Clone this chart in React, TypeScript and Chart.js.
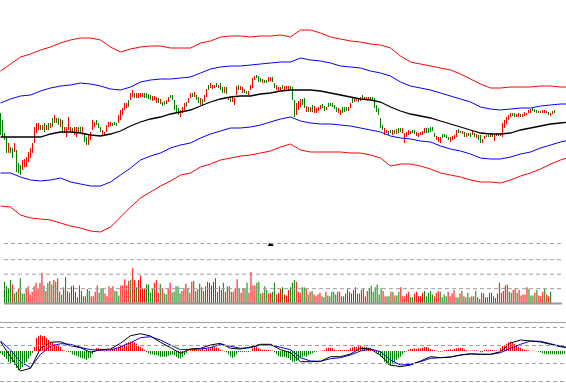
import { useEffect, useRef } from 'react';
import { Chart, registerables } from 'chart.js';

Chart.register(...registerables);

const RED = '#ff0000';
const GREEN = '#008000';
const BLUE = '#0000ff';
const BLACK = '#000000';
const GRID = '#a0a0a0';

// ---- candles (price units, higher = up) ----
const open = [
  126,119,106,102,88,92,91,89,89,76, 74,71,74,74,79,83,88,98,108,111,
  114,111,116,111,116,113,121,118,121,121, 114,119,108,104,111,108,111,106,104,112,
  112,106,106,102,96,101,111,114,119,116, 112,106,105,109,114,115,117,118,117,118,
  121,126,131,133,139,141,144,146,143,143, 144,144,146,146,145,144,140,141,138,141,
  137,137,138,137,139,145,144,139,134,131, 124,128,131,137,138,143,146,144,144,142,
  136,140,139,144,154,153,152,152,156,152, 156,152,148,152,140,142,139,136,146,154,
  151,148,150,149,146,151,153,161,165,163, 161,158,160,160,159,160,162,156,151,150,
  150,154,151,151,150,153,152,139,126,131, 134,140,141,129,132,129,134,128,128,130,
  132,135,133,130,136,137,136,134,132,128, 126,132,132,132,130,133,141,139,139,141,
  140,144,140,140,141,143,143,141,134,131, 121,114,106,107,108,110,106,109,107,111,
  111,108,98,104,106,106,110,109,105,104, 105,106,108,111,111,112,112,106,101,99,
  98,105,106,105,103,99,101,102,104,110, 109,106,107,104,107,106,106,106,103,104,
  104,98,101,105,105,104,106,100,104,106, 104,104,113,117,121,124,127,126,123,124,
  126,123,125,125,127,128,132,131,130,127, 129,127,127,127,128,124,126,130,
];
const high = [
  127,120,107,103,97,93,92,97,90,77, 75,80,81,83,88,92,97,113,117,117,
  115,115,117,115,117,117,122,125,122,122, 121,120,113,113,123,113,112,113,113,113,
  113,113,107,103,105,108,120,118,120,117, 113,110,108,115,118,118,117,118,117,125,
  130,132,137,137,140,147,150,147,147,147, 147,147,147,147,146,145,144,144,143,142,
  141,138,139,140,143,145,145,140,135,132, 130,133,137,138,142,147,147,148,145,143,
  142,141,145,151,155,157,155,155,157,155, 157,153,153,153,143,143,143,142,154,155,
  154,153,151,149,149,155,162,164,165,164, 162,161,160,160,163,163,163,157,155,153,
  153,155,154,154,154,154,153,140,137,139, 141,141,142,134,133,133,135,134,132,133,
  135,136,134,133,137,137,137,135,133,132, 130,133,133,133,133,137,142,142,142,142,
  143,145,143,143,143,143,143,142,135,132, 122,115,112,110,109,110,110,110,111,112,
  112,112,107,108,110,109,110,110,108,107, 108,109,112,112,112,113,113,107,104,103,
  103,106,106,105,103,103,104,105,110,111, 109,109,108,107,107,107,109,107,106,105,
  105,101,104,105,105,107,106,105,107,106, 107,117,120,123,125,127,127,127,126,127,
  126,126,128,127,130,131,132,131,130,129, 129,130,130,129,128,127,129,130,
];
const low = [
  105,103,100,87,87,87,82,88,68,67, 65,70,73,73,78,82,87,97,107,110,
  110,110,108,110,110,112,113,117,117,115, 113,107,107,103,110,107,107,105,103,107,
  107,105,98,95,95,100,110,113,115,112, 108,105,105,108,113,114,114,115,114,117,
  120,125,130,132,133,140,143,142,142,142, 143,143,142,142,141,140,139,140,137,137,
  136,134,135,136,138,142,140,130,128,125, 123,127,130,133,137,142,143,143,140,137,
  135,134,138,143,150,152,151,152,153,152, 150,147,147,146,140,138,138,135,145,150,
  150,147,147,146,145,150,152,160,162,158, 158,157,157,157,158,159,158,152,150,149,
  150,151,150,151,149,150,140,123,125,130, 133,135,132,128,128,128,128,127,127,129,
  131,132,129,130,133,134,133,131,128,127, 125,127,128,129,129,132,137,138,139,138,
  139,141,140,140,141,140,140,132,128,125, 112,110,105,107,105,107,105,106,106,107,
  108,107,97,103,105,106,107,106,104,103, 105,105,107,107,107,108,109,103,100,98,
  97,102,103,102,100,98,100,101,103,107, 107,106,103,103,104,103,105,103,102,100,
  97,97,101,103,103,103,103,99,104,104, 104,103,112,116,120,123,124,123,123,123,
  123,123,124,125,127,127,129,128,127,127, 127,127,127,127,125,124,126,127,
];
const close = [
  106,104,101,88,96,88,83,96,69,68, 66,79,80,82,87,91,96,112,116,116,
  111,114,109,114,111,116,114,124,118,116, 120,108,112,112,122,112,108,112,112,108,
  108,112,99,96,104,107,119,117,116,113, 109,109,108,114,117,117,114,115,114,124,
  129,131,136,136,134,146,149,143,146,146, 146,146,143,143,142,141,143,143,142,138,
  140,135,136,139,142,142,141,131,129,126, 129,132,136,134,141,146,144,147,141,138,
  141,135,144,150,151,156,154,155,154,155, 151,148,152,147,143,139,142,141,153,151,
  153,152,148,146,148,154,161,163,162,159, 159,160,157,157,162,162,159,153,154,152,
  153,152,153,154,153,151,141,124,136,138, 140,136,133,133,129,132,129,133,131,132,
  134,133,130,133,134,134,134,132,129,131, 129,128,129,130,132,136,138,141,142,139,
  142,142,143,143,143,140,140,133,129,126, 113,111,111,110,106,107,109,107,110,108,
  109,111,106,107,109,109,107,107,107,106, 108,108,111,108,108,109,110,104,103,102,
  102,103,103,102,100,102,103,104,109,108, 107,109,104,106,104,104,108,104,105,101,
  98,100,104,103,103,106,103,104,107,104, 107,116,119,122,124,126,124,124,126,126,
  123,126,127,127,130,130,129,128,127,129, 127,130,130,129,125,127,129,127,
];

// ---- volume ----
const volume = [
  24,19,17,26,21,11,13,16,28,11, 11,16,19,10,13,19,23,17,23,34,
  20,14,23,25,21,26,24,28,13,10, 18,29,14,12,19,20,13,7,20,14,
  8,8,16,14,8,8,13,20,12,17, 17,11,8,19,17,19,14,14,9,20,
  20,27,20,25,26,39,26,18,26,31, 17,17,21,21,12,16,23,26,12,22,
  17,11,10,16,23,12,13,19,19,11, 14,17,22,17,12,24,25,14,16,22,
  18,14,19,24,23,20,24,28,13,19, 15,23,13,19,19,13,13,17,27,17,
  12,17,16,23,12,35,20,20,23,24, 11,12,19,15,11,12,13,23,10,12,
  16,18,10,9,15,18,23,26,24,13, 12,18,18,16,10,13,14,10,8,10,
  12,8,7,13,9,8,13,13,10,13, 13,8,8,11,16,13,11,15,18,11,
  11,15,16,8,14,17,20,13,18,21, 10,17,14,8,8,8,13,13,9,9,
  13,18,8,8,11,13,7,7,11,13, 8,8,12,14,8,12,14,10,8,12,
  14,13,7,10,8,13,8,11,15,7, 7,11,14,8,7,12,7,8,8,14,
  7,5,12,11,7,7,12,12,8,6, 11,23,12,14,20,21,13,12,15,17,
  12,15,9,10,10,18,16,9,9,12, 15,9,8,13,16,10,8,13,
];

// ---- MACD histogram (one per bar, extends past last candle) ----
const macdHist = [
  -2.3,-4,-6,-8,-11,-13,-11,-14,-17,-19,-18,-16,-14,-11,-8,-5,-2,
  4,13,15,16,15,15,13,11,9,8,7,6,5,4,1,
  0.5,-0.5,-1,
  -1.3,-3.3,-4,-4.7,-5.7,-6.7,-7.3,-8,-9,-7.3,-6.7,-3.3,-1.3,
  3,3,2, 1,-0.5,1,0.5,1,
  1.7,2.7,3.3,4.3,5.3,6,6.7,8,8.7,9.3,9.3,8.7,7.3,5.3,4,2.7,1.3,
  -1.3,-2.3,-3.3,-3.3,-4,-4,-4.7,-5.7,-5.7,-5.7,-5.7,-4.7,-4,-3.3,-4,-5.7,-7.3,-7.3,-5.7,-4,-2,
  0.5,
  1.5,2,2.5,1.5,1,1.5,2,1,
  2.7,3.3,4,4.3,4,3.7,2.7,1.3,
  0.5,-0.5,
  -1.3,-3.3,-5.7,-6.7,-5.7,-3.3,-1.3,
  -1,-1.3,-1,-0.7,-1,-0.5,
  2.7,4,4,2.7,2,1.3,1.3,1.3,
  1,0.7,0.5,
  -1.3,-3.3,-4.7,-5.7,-5.7,
  -5.7,-6.7,-7.3,-9,-10.7,-10.7,-10,-9,-6.7,-5.7,-4.7,-5.7,-4,-3.3,-2.3,-1.3,-0.7,-0.3,
  0.3,0.5,0.7,
  2.7,3.3,3.3,2.7,1.3,0.7,
  0.7,1,1,1,1,1,
  2.7,3.7,4.3,4,4.7,5,4.3,4.3,4,3.3,2.7,2,1,
  -1.3,-3.3,-5.7,-7.3,-10.7,-13.3,-14,-14.7,-13.3,-10.7,-9,-7.3,-5.7,-3.3,-1.3,
  -0.5,
  1.3,2,2,2.7,2,2.7,2.7,3.3,4,4,3.3,2,1.3,0.7,0.5,
  -0.7,-0.7,-0.5,
  0.7,1,1.3,1.7,1.3,2,2.7,3.3,3.3,2.7,1.7,0.7,0.3,
  0.5,0.5,0.7,0.5,0.3,
  -1.3,-1.3,
  1.3,1.3,1,1.3,1,0.7,0.5,0.3,
  2.7,5,6,7.3,8.7,9.3,8.7,7.3,6,4.3,3.3,2,1.3,1,0.7,0.3,
  0.2,-0.2,-0.3,
  -0.7,-1.3,-2,-2.7,-3.3,-3.3,-3.3,-3.3,-3.3,-3.3,-3.3,-3.3,-3.3,-2.7,
];

// ---- smooth lines sampled every LINE_STEP bars ----
const LINE_STEP = 5;
const bandOuterUpper = [
  169,176,183,186,190,193,197,200,202,202, 200,193,188,191,193,194,194,192,192,192,
  197,199,203,204,204,203,204,204,205,203, 210,210,207,203,201,199,198,196,195,192,
  184,178,176,174,172,170,166,161,156,152, 152,153,153,153,154,154,153,153,
];
const bandInnerUpper = [
  137,141,144,145,149,152,154,155,157,156, 154,151,150,153,158,160,161,161,162,163,
  167,171,173,174,174,175,176,177,178,178, 182,180,179,177,174,173,172,169,167,164,
  158,154,152,150,147,144,141,138,133,131, 130,131,132,132,134,135,136,136,
];
const movingAverage = [
  103,103,103,103,103,106,108,108,107,105, 104,106,109,114,118,121,123,126,128,130,
  134,138,141,143,144,144,146,147,149,150, 150,150,149,147,145,143,141,140,138,133,
  129,126,124,122,119,116,113,110,107,106, 106,107,110,112,114,116,117,118,
];
const bandInnerLower = [
  67,67,63,60,59,60,62,58,56,54, 54,58,65,72,80,84,87,92,95,97,
  102,106,109,112,112,113,115,118,121,123, 119,117,116,116,115,114,112,110,108,104,
  102,101,99,98,94,91,89,86,82,81, 81,83,86,88,92,95,98,100,
];
const bandOuterLower = [
  34,33,25,22,21,20,17,14,12,9, 8,13,23,33,42,48,54,59,65,67,
  73,76,80,82,84,85,87,89,93,96, 90,88,88,88,88,87,87,85,82,74,
  76,76,74,71,67,65,63,60,58,58, 57,60,64,67,71,76,80,83,
];
const macdDif = [
  9.3,-5.7,-20,-17.3,2.7,8.7,9.3,5.3,3.3,-1.3, 1.3,2,7.7,15.3,17.3,15,8.7,3.3,-2.3,2,
  2.7,6,7.7,2.7,2,4,6.7,6.7,1.3,-1.7, -10.7,-10.7,-10.3,-5.7,-5.7,-3,2.7,2,-4.3,-14,
  -15.7,-14,-10,-5.7,-6.7,-6,-4,-3,-3.3,-3.3, -0.7,8,11,10,9,6.7,4.3,3,
];
const macdDea = [
  10,1,-10.7,-16.7,-3.3,4.7,7.3,6.7,3.7,1.3, 1,1,4,8.3,13.3,14.3,11,6,1.3,1.7,
  2,3.3,6.7,4.7,2.7,3.3,6,6,3.7,1.3, -6.7,-10,-10.3,-7.7,-6.7,-4,0,2,-0.7,-9,
  -14,-13.3,-10.7,-7.3,-6.7,-6,-4,-2.7,-3.3,-3.3, -1.7,2.7,6.7,10,9.7,7.3,4.7,3,
];

// reference levels
const volumeGridLevels = [66.5, 48.5, 32.5, 16.5];
const volumeBaseLevel = 0;
const macdTopLevel = 28.5;
const macdGridLevels = [23.5, 5.5, -12.5, -30.5];
const markerIndex = 135;
const markerLevel = 65.5;

// quarter-bar offset keeps the 1px bars on whole pixels
const X_MIN = -0.25;
const X_MAX = 282.75;

const candleColors = close.map((c, i) => (c >= open[i] ? RED : GREEN));

function lineSeries(values: number[]) {
  return values.map((v, k) => ({ x: k * LINE_STEP, y: v }));
}

function lineDs(values: number[], color: string, width = 1) {
  return {
    type: 'line' as const,
    data: lineSeries(values),
    borderColor: color,
    borderWidth: width,
    pointRadius: 0,
    tension: 0,
    fill: false,
    order: 0,
  };
}

function hline(level: number, color: string, dash: number[], width = 1) {
  return {
    type: 'line' as const,
    data: [{ x: X_MIN, y: level }, { x: X_MAX, y: level }],
    borderColor: color,
    borderWidth: width,
    borderDash: dash,
    pointRadius: 0,
    tension: 0,
    fill: false,
    order: 0,
  };
}

function barDs(data: any[], colors: string[] | string, order = 1) {
  return {
    type: 'bar' as const,
    data,
    backgroundColor: colors,
    borderWidth: 0,
    barThickness: 1,
    grouped: false,
    inflateAmount: 0,
    order,
  };
}

function baseOptions(yMin: number, yMax: number): any {
  return {
    animation: false,
    responsive: false,
    maintainAspectRatio: false,
    devicePixelRatio: 1,
    events: [],
    layout: { padding: 0 },
    plugins: { legend: { display: false }, tooltip: { enabled: false } },
    scales: {
      x: { type: 'linear', min: X_MIN, max: X_MAX, display: false, offset: false },
      y: { type: 'linear', min: yMin, max: yMax, display: false },
    },
  };
}

function mainConfig(): any {
  const idx = open.map((_, i) => i);
  return {
    type: 'bar',
    data: {
      datasets: [
        lineDs(bandOuterUpper, RED),
        lineDs(bandInnerUpper, BLUE),
        lineDs(movingAverage, BLACK, 1.3),
        lineDs(bandInnerLower, BLUE),
        lineDs(bandOuterLower, RED),
        barDs(idx.map((i) => ({ x: i, y: [low[i], high[i]] })), candleColors, 1),
        barDs(idx.map((i) => ({ x: i, y: [open[i], close[i]] })), candleColors, 1),
      ],
    },
    options: baseOptions(1, 240),
  };
}

function volumeConfig(): any {
  return {
    type: 'bar',
    data: {
      datasets: [
        ...volumeGridLevels.map((v) => hline(v, GRID, [4, 3])),
        hline(volumeBaseLevel, '#999999', [], 2),
        barDs(volume.map((v, i) => ({ x: i, y: v })), candleColors, 2),
        {
          type: 'line',
          data: [{ x: markerIndex, y: markerLevel }],
          showLine: false,
          pointStyle: 'triangle',
          pointRadius: 3.5,
          pointBackgroundColor: BLACK,
          pointBorderColor: BLACK,
          pointBorderWidth: 0,
          order: 0,
        },
      ],
    },
    options: baseOptions(-16, 67),
  };
}

function macdConfig(): any {
  return {
    type: 'bar',
    data: {
      datasets: [
        hline(macdTopLevel, GRID, [], 1),
        ...macdGridLevels.map((v) => hline(v, GRID, [4, 3])),
        lineDs(macdDif, BLACK),
        lineDs(macdDea, BLUE),
        barDs(
          macdHist.map((v, i) => ({ x: i, y: v })),
          macdHist.map((v) => (v >= 0 ? RED : GREEN)),
          2,
        ),
      ],
    },
    options: baseOptions(-32, 29),
  };
}

export default function App() {
  const mainRef = useRef<HTMLCanvasElement>(null);
  const volRef = useRef<HTMLCanvasElement>(null);
  const macdRef = useRef<HTMLCanvasElement>(null);

  useEffect(() => {
    const charts = [
      new Chart(mainRef.current!, mainConfig()),
      new Chart(volRef.current!, volumeConfig()),
      new Chart(macdRef.current!, macdConfig()),
    ];
    return () => charts.forEach((c) => c.destroy());
  }, []);

  return (
    <div
      style={{
        position: 'fixed',
        left: 0,
        top: 0,
        width: 566,
        height: 383,
        background: '#ffffff',
        overflow: 'hidden',
      }}
    >
      <canvas
        ref={mainRef}
        width={566}
        height={239}
        style={{ position: 'absolute', left: 0, top: 0, width: 566, height: 239 }}
      />
      <canvas
        ref={volRef}
        width={566}
        height={83}
        style={{ position: 'absolute', left: 0, top: 239, width: 566, height: 83 }}
      />
      <canvas
        ref={macdRef}
        width={566}
        height={61}
        style={{ position: 'absolute', left: 0, top: 322, width: 566, height: 61 }}
      />
    </div>
  );
}
